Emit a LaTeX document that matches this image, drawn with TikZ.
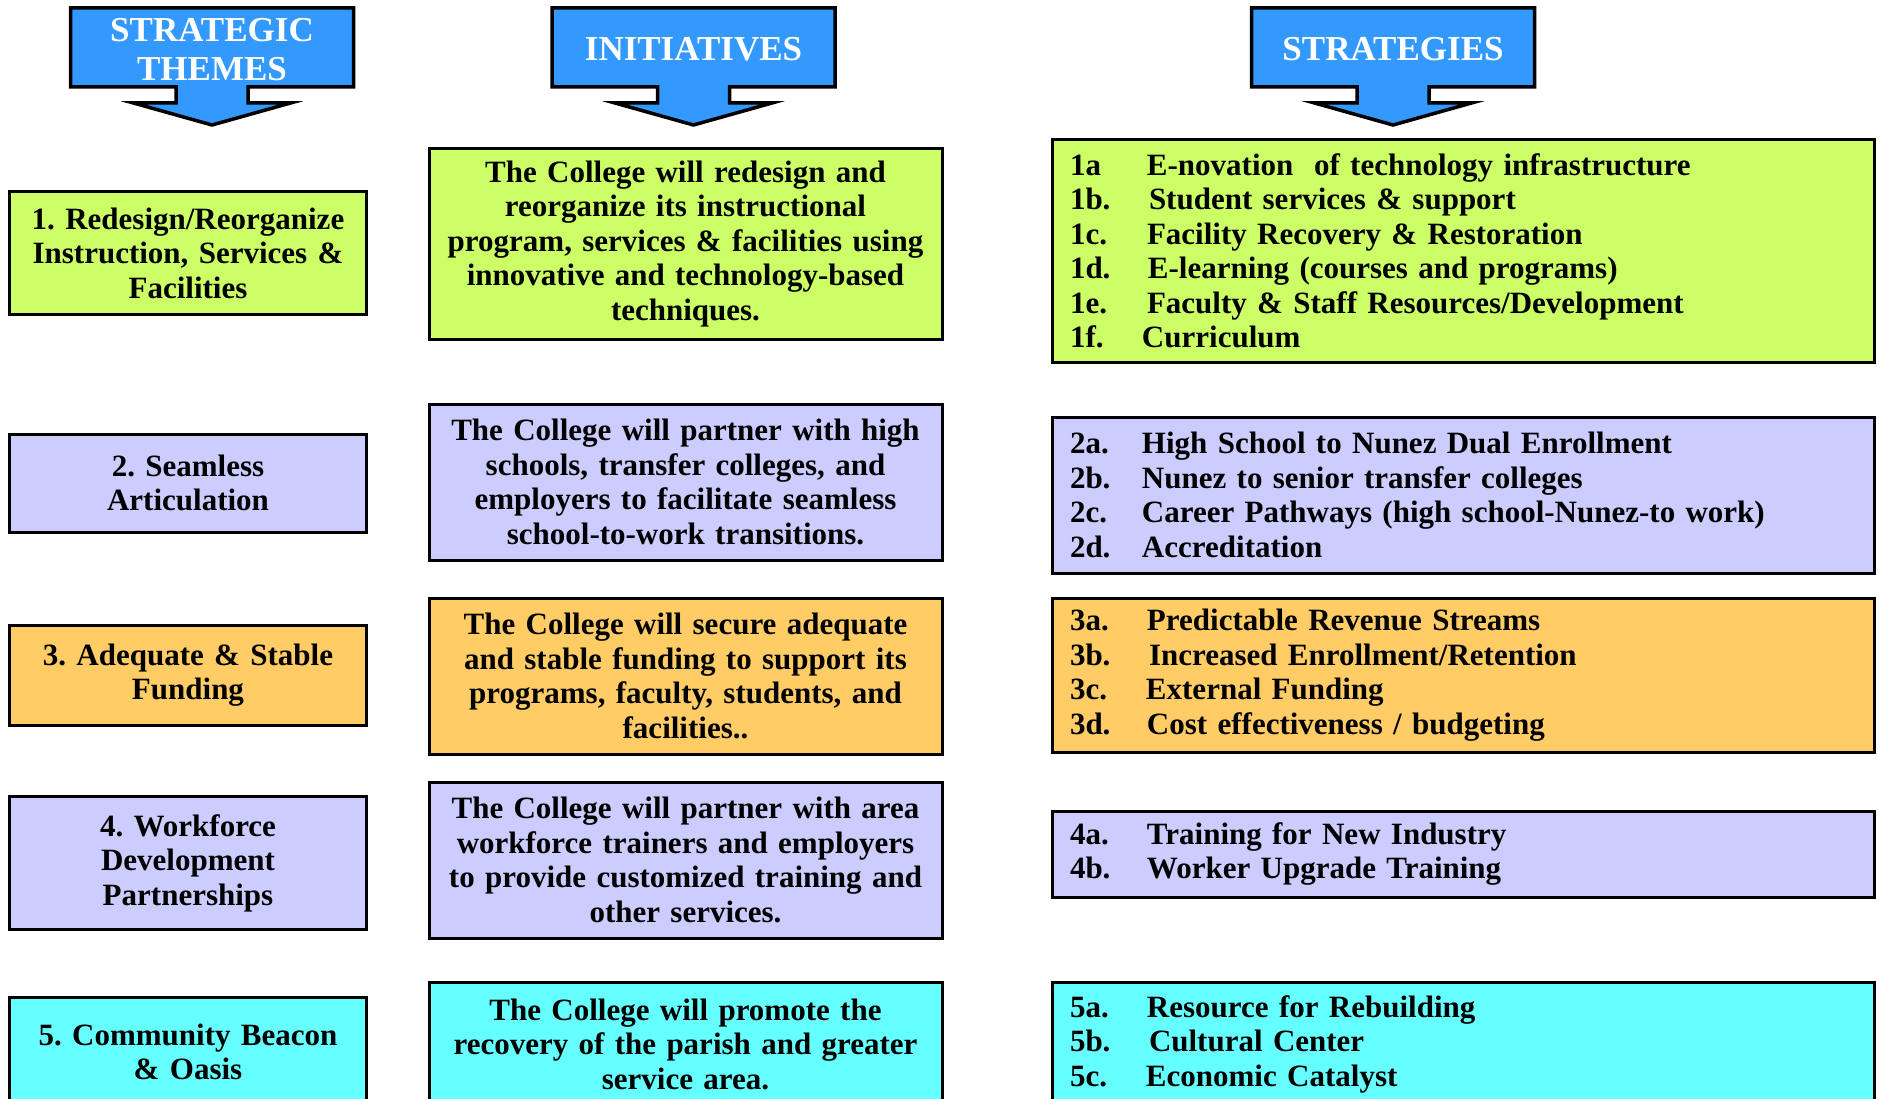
\documentclass[tikz,border=0pt]{standalone}
\usepackage{fontspec}
\setmainfont{Liberation Serif}
\frenchspacing
\definecolor{cgreen}{HTML}{CCFF66}
\definecolor{clav}{HTML}{CCCCFF}
\definecolor{corange}{HTML}{FFCC66}
\definecolor{ccyan}{HTML}{66FFFF}
\definecolor{cblue}{HTML}{3399FF}
\newcommand{\stlbl}[2][77pt]{\makebox[#1][l]{#2}}
\begin{document}
\begin{tikzpicture}[x=1pt,y=-1pt,
  box/.style={draw=black, line width=3pt, inner sep=0pt,
    font=\fontsize{31}{34.5}\selectfont\bfseries\frenchspacing, align=center},
  theme/.style={box, minimum width=357pt, text width=345pt},
  init/.style={box, minimum width=513pt, text width=500pt},
  strat/.style={box, minimum width=822pt, text width=786pt, align=left},
  hdrtext/.style={text=white, inner sep=0pt,
    font=\fontsize{35}{39}\selectfont\bfseries, align=center},
  hdrshape/.style={fill=cblue, draw=black, line width=3.5pt, line join=miter},
  hdr/.pic={
    \path[hdrshape] (-141.5,8) -- (141.5,8) -- (141.5,87) -- (36,87) -- (36,103)
      -- (78.5,103) -- (0,125) -- (-78.5,103) -- (-36,103) -- (-36,87)
      -- (-141.5,87) -- cycle;
  }
]
\useasboundingbox (0,0) rectangle (1879,1099);
\clip (0,0) rectangle (1879,1099);

% header arrows
\pic at (212,0) {hdr};
\pic at (693.5,0) {hdr};
\pic at (1393,0) {hdr};
\node[hdrtext] (h1) at (212,50) {STRATEGIC\\THEMES};
\node[hdrtext] (h2) at (693.5,49) {INITIATIVES};
\node[hdrtext] (h3) at (1393,49) {STRATEGIES};

% strategic themes
\node[theme, fill=cgreen, minimum height=122pt] (t1) at (188,253)
  {1. Redesign/Reorganize\\Instruction, Services \&\\Facilities};
\node[theme, fill=clav, minimum height=98pt] (t2) at (188,483)
  {2. Seamless\\Articulation};
\node[theme, fill=corange, minimum height=100pt] (t3) at (188,675)
  {3. Adequate \& Stable\\Funding};
\node[theme, fill=clav, minimum height=133pt] (t4) at (188,863)
  {4. Workforce\\Development\\Partnerships};
\node[theme, fill=ccyan, minimum height=110pt] (t5) at (188,1052)
  {5. Community Beacon\\\& Oasis};

% initiatives
\node[init, fill=cgreen, minimum height=190pt] (i1) at (685.5,244)
  {The College will redesign and\\reorganize its instructional\\program, services \& facilities using\\innovative and technology-based\\techniques.};
\node[init, fill=clav, minimum height=156pt] (i2) at (685.5,482)
  {The College will partner with high\\schools, transfer colleges, and\\employers to facilitate seamless\\school-to-work transitions.};
\node[init, fill=corange, minimum height=156pt] (i3) at (685.5,676)
  {The College will secure adequate\\and stable funding to support its\\programs, faculty, students, and\\facilities..};
\node[init, fill=clav, minimum height=156pt] (i4) at (685.5,860)
  {The College will partner with area\\workforce trainers and employers\\to provide customized training and\\other services.};
\node[init, fill=ccyan, minimum height=123pt] (i5) at (685.5,1044)
  {The College will promote the\\recovery of the parish and greater\\service area.};

% strategies
\node[strat, fill=cgreen, minimum height=222pt] (s1) at (1463,251)
  {\stlbl{1a}E-novation\ \ of technology infrastructure\\
   \stlbl[79pt]{1b.}Student services \& support\\
   \stlbl{1c.}Facility Recovery \& Restoration\\
   \stlbl[78pt]{1d.}E-learning (courses and programs)\\
   \stlbl{1e.}Faculty \& Staff Resources/Development\\
   \stlbl[72pt]{1f.}Curriculum};
\node[strat, fill=clav, minimum height=156pt] (s2) at (1463,495)
  {\stlbl[72pt]{2a.}High School to Nunez Dual Enrollment\\
   \stlbl[72pt]{2b.}Nunez to senior transfer colleges\\
   \stlbl[72pt]{2c.}Career Pathways (high school-Nunez-to work)\\
   \stlbl[72pt]{2d.}Accreditation};
\node[strat, fill=corange, minimum height=154pt] (s3) at (1463,675)
  {\stlbl{3a.}Predictable Revenue Streams\\
   \stlbl[79pt]{3b.}Increased Enrollment/Retention\\
   \stlbl[76pt]{3c.}External Funding\\
   \stlbl{3d.}Cost effectiveness / budgeting};
\node[strat, fill=clav, minimum height=86pt] (s4) at (1463,854)
  {\stlbl{4a.}Training for New Industry\\
   \stlbl{4b.}Worker Upgrade Training};
\node[strat, fill=ccyan, minimum height=123pt] (s5) at (1463,1044)
  {\stlbl{5a.}Resource for Rebuilding\\
   \stlbl[79pt]{5b.}Cultural Center\\
   \stlbl[76pt]{5c.}Economic Catalyst};
\end{tikzpicture}
\end{document}
